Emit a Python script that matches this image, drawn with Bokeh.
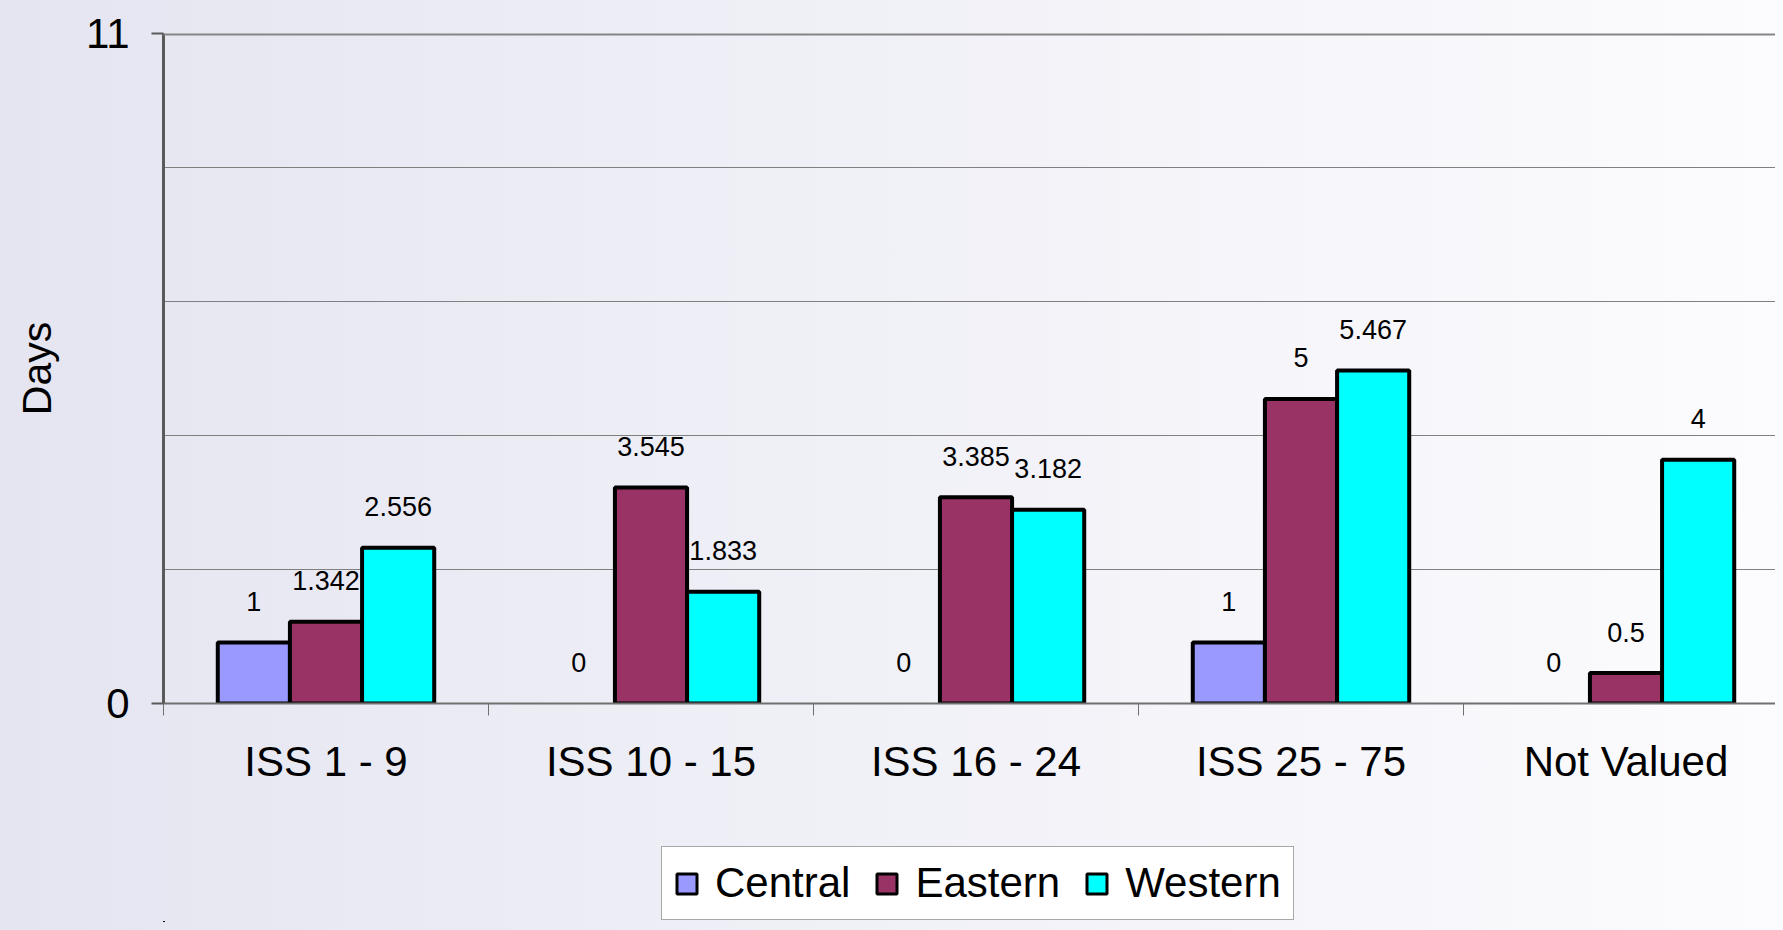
from bokeh.plotting import figure
from bokeh.layouts import column
from bokeh.models import (Range1d, FixedTicker, ColumnDataSource, Legend,
                          LegendItem, Span)
from bokeh.transform import dodge
from bokeh.core.properties import value
from bokeh.embed import file_html
from bokeh.resources import INLINE

# ---- data ----
categories = ["ISS 1 - 9", "ISS 10 - 15", "ISS 16 - 24", "ISS 25 - 75", "Not Valued"]
central = [1, 0, 0, 1, 0]
eastern = [1.342, 3.545, 3.385, 5, 0.5]
western = [2.556, 1.833, 3.182, 5.467, 4]
series_names = ["Central", "Eastern", "Western"]
series_colors = ["#9999FF", "#993366", "#00FFFF"]
y_ticks = [0, 11]
y_max = 11
y_label = "Days"

FONT = "Liberation Sans"
n = len(categories)
xs = [i + 0.5 for i in range(n)]
series_values = [central, eastern, western]

data = dict(x=xs)
for name, vals in zip(series_names, series_values):
    data[name] = vals
    data[name + "_lbl"] = [f"{v:g}" for v in vals]
    data[name + "_la"] = [1.0 if v > 0 else 0.0 for v in vals]
src = ColumnDataSource(data)

p = figure(width=1767, height=831, output_backend="svg", toolbar_location=None,
           x_range=Range1d(0, 4.96), y_range=Range1d(0, y_max),
           min_border_left=155, min_border_right=0, min_border_top=25,
           min_border_bottom=136)
p.background_fill_color = None
p.border_fill_color = None
p.outline_line_color = None

# grid
p.xgrid.visible = False
p.ygrid.ticker = FixedTicker(ticks=[y_max * k / 5 for k in range(6)])
p.ygrid.grid_line_color = "#808080"
p.ygrid.grid_line_width = 1

# top border line
p.add_layout(Span(location=y_max, dimension="width", line_color="#858585",
                  line_width=4))

# bars
offsets = [-0.222, 0.0, 0.222]
for name, color, off in zip(series_names, series_colors, offsets):
    p.vbar(x=dodge("x", off, range=p.x_range), top=name, width=0.222,
           source=src, fill_color=color, line_color="black",
           line_width=4, line_alpha=name + "_la")
    p.text(x=dodge("x", off, range=p.x_range), y=name, text=name + "_lbl",
           source=src, text_align="center", text_baseline="alphabetic",
           y_offset=-41, text_font=value(FONT), text_font_size="27px",
           text_color="black")

# x axis
xa = p.xaxis[0]
xa.ticker = FixedTicker(ticks=xs, minor_ticks=list(range(n + 1)))
xa.major_label_overrides = {x: c for x, c in zip(xs, categories)}
xa.major_tick_line_color = None
xa.major_tick_out = 0
xa.major_tick_in = 0
xa.minor_tick_out = 12
xa.minor_tick_in = 0
xa.minor_tick_line_color = "#707070"
xa.minor_tick_line_width = 1
xa.axis_line_color = "#707070"
xa.axis_line_width = 2
xa.major_label_text_font = FONT
xa.major_label_text_font_size = "42px"
xa.major_label_text_color = "black"
xa.major_label_standoff = 22

# y axis
ya = p.yaxis[0]
ya.ticker = FixedTicker(ticks=y_ticks)
ya.minor_tick_line_color = None
ya.major_tick_out = 12
ya.major_tick_in = 0
ya.major_tick_line_color = "#5a5a5a"
ya.major_tick_line_width = 2
ya.axis_line_color = "#5a5a5a"
ya.axis_line_width = 3
ya.major_label_text_font = FONT
ya.major_label_text_font_size = "42px"
ya.major_label_text_color = "black"
ya.major_label_standoff = 22
ya.axis_label = y_label
ya.axis_label_text_font = FONT
ya.axis_label_text_font_size = "41px"
ya.axis_label_text_font_style = "normal"
ya.axis_label_text_color = "black"
ya.axis_label_standoff = 23

# legend strip below the chart (swatch renderers share the source; their
# marks fall far outside this strip's ranges)
lf = figure(width=1767, height=83, output_backend="svg", toolbar_location=None,
            x_range=Range1d(10, 11), y_range=Range1d(10, 11),
            x_axis_location=None, y_axis_location=None,
            min_border_left=0, min_border_right=0, min_border_top=0,
            min_border_bottom=0)
lf.background_fill_color = None
lf.border_fill_color = None
lf.outline_line_color = None
lf.grid.visible = False
items = []
for name, color in zip(series_names, series_colors):
    r = lf.vbar(x="x", top=name, width=0.1, source=src, fill_color=color,
                line_color="black", line_width=3)
    items.append(LegendItem(label=name, renderers=[r]))
legend = Legend(items=items, orientation="horizontal", location=(498, 2),
                glyph_width=25, glyph_height=25, label_standoff=16, spacing=24,
                padding=12, margin=0, label_height=47, label_text_font=FONT,
                label_text_font_size="42px", label_text_color="black",
                border_line_color="#505050", border_line_width=1,
                background_fill_color="white", background_fill_alpha=1.0)
lf.add_layout(legend, "center")

layout = column(p, lf, spacing=0)

html = file_html(layout, INLINE)
style = ("<style>html{min-height:100%;background:linear-gradient(to right,"
         "rgb(229,229,241) 0%,rgb(252,252,254) 100%) fixed;}"
         "body{margin:8px;background:transparent;}</style>")
html = html.replace("</head>", style + "</head>", 1)
open("out.html", "w").write(html)
